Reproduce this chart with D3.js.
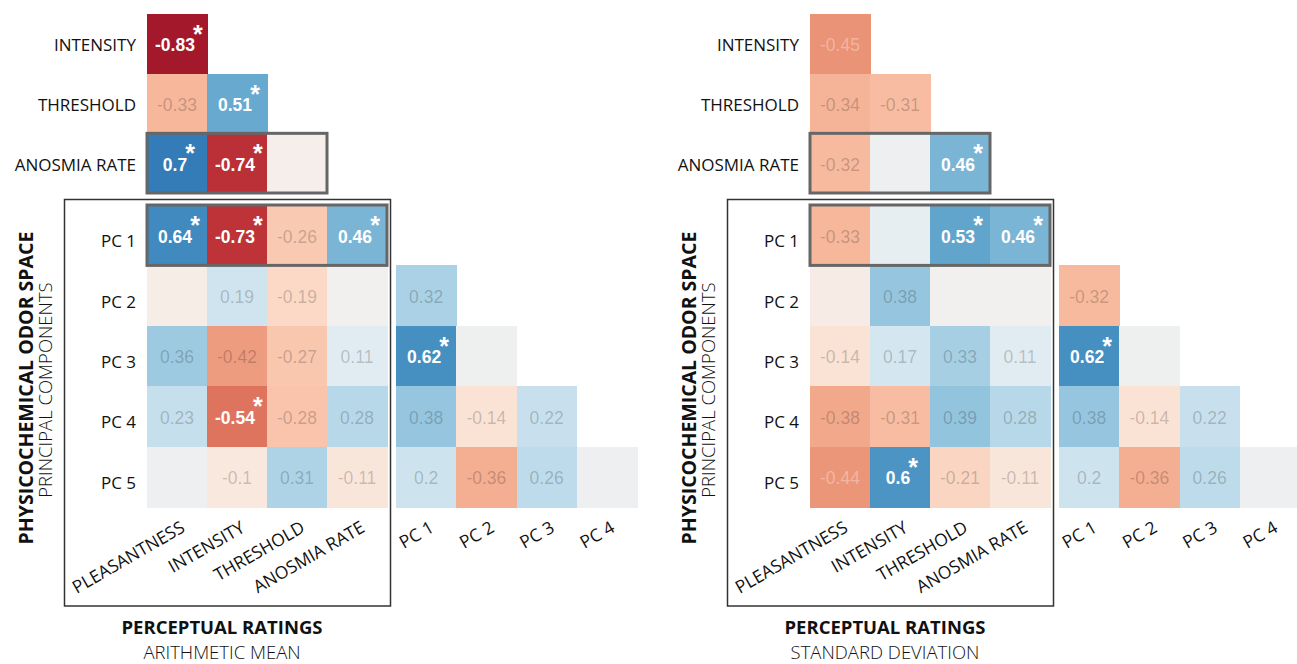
<!DOCTYPE html>
<html>
<head>
<meta charset="utf-8">
<script src="https://cdn.jsdelivr.net/npm/d3@7"></script>
<style>
  body { margin: 0; background: #fff; }
  .lbl { font-family: "Open Sans", sans-serif; fill: #111; }
  .val { font-family: "Liberation Sans", Arial, sans-serif; }
</style>
</head>
<body>
<svg id="chart" width="1297" height="664"></svg>
<script>
// Category labels
const perceptualRatings = ["PLEASANTNESS", "INTENSITY", "THRESHOLD", "ANOSMIA RATE"];
const perceptualRows = ["INTENSITY", "THRESHOLD", "ANOSMIA RATE"];
const components = ["PC 1", "PC 2", "PC 3", "PC 4", "PC 5"];
const componentCols = ["PC 1", "PC 2", "PC 3", "PC 4"];

// Arithmetic mean: perceptual ratings vs. each other (lower triangle)
const meanPerc = [[-0.83], [-0.33, 0.51], [0.70, -0.74, -0.03]];
const meanPercSig = [[1], [0, 1], [1, 1, 0]];
// Arithmetic mean: principal components vs. perceptual ratings
const meanPcPerc = [
  [0.64, -0.73, -0.26, 0.46],
  [-0.05, 0.19, -0.19, 0.01],
  [0.36, -0.42, -0.27, 0.11],
  [0.23, -0.54, -0.28, 0.28],
  [0.04, -0.10, 0.31, -0.11]
];
const meanPcPercSig = [
  [1, 1, 0, 1],
  [0, 0, 0, 0],
  [0, 0, 0, 0],
  [0, 1, 0, 0],
  [0, 0, 0, 0]
];
// Arithmetic mean: principal components vs. each other (rows PC 2..PC 5)
const meanPcPc = [[0.32], [0.62, 0.03], [0.38, -0.14, 0.22], [0.20, -0.36, 0.26, 0.04]];
const meanPcPcSig = [[0], [1, 0], [0, 0, 0], [0, 0, 0, 0]];

// Standard deviation: perceptual ratings vs. each other
const sdPerc = [[-0.45], [-0.34, -0.31], [-0.32, 0.04, 0.46]];
const sdPercSig = [[0], [0, 0], [0, 0, 1]];
// Standard deviation: principal components vs. perceptual ratings
const sdPcPerc = [
  [-0.33, 0.08, 0.53, 0.46],
  [-0.06, 0.38, 0.01, 0.01],
  [-0.14, 0.17, 0.33, 0.11],
  [-0.38, -0.31, 0.39, 0.28],
  [-0.44, 0.60, -0.21, -0.11]
];
const sdPcPercSig = [
  [0, 0, 1, 1],
  [0, 0, 0, 0],
  [0, 0, 0, 0],
  [0, 0, 0, 0],
  [0, 1, 0, 0]
];
const sdPcPc = [[-0.32], [0.62, 0.03], [0.38, -0.14, 0.22], [0.20, -0.36, 0.26, 0.04]];
const sdPcPcSig = [[0], [1, 0], [0, 0, 0], [0, 0, 0, 0]];

const panels = [
  { offset: 0, title: "PERCEPTUAL RATINGS", subtitle: "ARITHMETIC MEAN",
    perc: meanPerc, percSig: meanPercSig, pcPerc: meanPcPerc, pcPercSig: meanPcPercSig,
    pcPc: meanPcPc, pcPcSig: meanPcPcSig },
  { offset: 663, title: "PERCEPTUAL RATINGS", subtitle: "STANDARD DEVIATION",
    perc: sdPerc, percSig: sdPercSig, pcPerc: sdPcPerc, pcPercSig: sdPcPercSig,
    pcPc: sdPcPc, pcPcSig: sdPcPcSig }
];

const svg = d3.select("#chart");
const color = d3.scaleDiverging(d3.interpolateRdBu).domain([-1, 0, 1]);
const fmt = v => String(+v.toFixed(2));
const SHOW_MIN = 0.1;      // smaller correlations are left unlabeled
const LIGHT_TEXT_MIN = 0.44;

const xPerc = d3.scaleBand().domain(perceptualRatings).range([147, 387]);
const yPercRow = d3.scaleBand().domain(perceptualRows).range([14, 193]);
const yPc = d3.scaleBand().domain(components).range([205, 507]);
const xPc = d3.scaleBand().domain(componentCols).range([396, 637]);

function cells(g, data, sig, rows, cols, xs, ys) {
  const flat = [];
  data.forEach((row, i) => row.forEach((v, j) => flat.push({ v, s: sig[i][j], r: rows[i], c: cols[j] })));
  g.selectAll(null).data(flat).join("rect")
    .attr("x", d => xs(d.c)).attr("y", d => ys(d.r))
    .attr("width", xs.bandwidth() + 0.5).attr("height", ys.bandwidth() + 0.5)
    .attr("fill", d => color(d.v))
    .attr("shape-rendering", "crispEdges");

  const shown = flat.filter(d => Math.abs(d.v) >= SHOW_MIN);
  shown.forEach(d => {
    const cx = xs(d.c) + xs.bandwidth() / 2;
    const cy = ys(d.r) + ys.bandwidth() / 2;
    const t = g.append("text").attr("class", "val")
      .attr("x", cx - (d.s ? 2 : 0)).attr("y", cy).attr("dy", "0.42em")
      .attr("text-anchor", "middle")
      .style("font-size", "17.5px")
      .text(fmt(d.v));
    if (d.s) {
      t.style("font-weight", "bold").attr("fill", "#fff");
      const w = t.node().getComputedTextLength();
      g.append("text").attr("class", "val")
        .attr("x", cx - 2 + w / 2 + 3).attr("y", cy - 1)
        .attr("text-anchor", "middle")
        .style("font-size", "25px").style("font-weight", "bold")
        .attr("fill", "#fff")
        .text("*");
    } else if (Math.abs(d.v) >= LIGHT_TEXT_MIN) {
      t.attr("fill", "rgba(255,255,255,0.32)");
    } else {
      t.attr("fill", "rgba(0,0,0,0.21)");
    }
  });
}

function styleAxis(size) {
  return g => {
    g.select(".domain").remove();
    g.selectAll("text").attr("class", "lbl").attr("fill", "#111")
      .style("font-size", size).style("font-family", "'Open Sans', sans-serif");
  };
}

panels.forEach(p => {
  const g = svg.append("g").attr("transform", `translate(${p.offset},0)`);

  // outer frame around the odor-space block
  g.append("rect")
    .attr("x", 64.5).attr("y", 199.5).attr("width", 326).attr("height", 406.5)
    .attr("fill", "none").attr("stroke", "#333").attr("stroke-width", 1.5);

  cells(g, p.perc, p.percSig, perceptualRows, perceptualRatings, xPerc, yPercRow);
  cells(g, p.pcPerc, p.pcPercSig, components, perceptualRatings, xPerc, yPc);
  cells(g, p.pcPc, p.pcPcSig, components.slice(1), componentCols, xPc, yPc);

  // highlighted rows
  g.append("rect")
    .attr("x", xPerc("PLEASANTNESS")).attr("y", yPercRow("ANOSMIA RATE"))
    .attr("width", xPerc.bandwidth() * 3).attr("height", yPercRow.bandwidth())
    .attr("fill", "none").attr("stroke", "#666").attr("stroke-width", 3);
  g.append("rect")
    .attr("x", xPerc("PLEASANTNESS")).attr("y", yPc("PC 1"))
    .attr("width", xPerc.bandwidth() * 4).attr("height", yPc.bandwidth())
    .attr("fill", "none").attr("stroke", "#666").attr("stroke-width", 3);

  // row labels
  g.append("g").attr("transform", "translate(147,0)")
    .call(d3.axisLeft(yPercRow).tickSize(0).tickPadding(11))
    .call(styleAxis("17px"))
    .selectAll("text").attr("dy", "0.45em");
  g.append("g").attr("transform", "translate(147,0)")
    .call(d3.axisLeft(yPc).tickSize(0).tickPadding(11))
    .call(styleAxis("17px"))
    .selectAll("text").attr("dy", "0.7em");

  // rotated column labels
  [xPerc, xPc].forEach(xs => {
    g.append("g").attr("transform", "translate(0,507)")
      .call(d3.axisBottom(xs).tickSize(0))
      .call(styleAxis("17.5px"))
      .selectAll("text")
      .attr("x", 0).attr("y", 0).attr("dy", 0)
      .attr("text-anchor", "end")
      .attr("transform", "translate(9,24) rotate(-30)");
  });

  // axis titles
  g.append("text").attr("class", "lbl")
    .attr("transform", "translate(33,388) rotate(-90)")
    .attr("text-anchor", "middle")
    .style("font-size", "19.5px").style("font-weight", 700)
    .text("PHYSICOCHEMICAL ODOR SPACE");
  g.append("text").attr("class", "lbl")
    .attr("transform", "translate(52,390) rotate(-90)")
    .attr("text-anchor", "middle")
    .style("font-size", "18.5px").style("font-weight", 300)
    .text("PRINCIPAL COMPONENTS");
  g.append("text").attr("class", "lbl")
    .attr("x", 222).attr("y", 634)
    .attr("text-anchor", "middle")
    .style("font-size", "18.5px").style("font-weight", 700)
    .text(p.title);
  g.append("text").attr("class", "lbl")
    .attr("x", 222).attr("y", 659)
    .attr("text-anchor", "middle")
    .style("font-size", "18.5px").style("font-weight", 300)
    .text(p.subtitle);
});
</script>
</body>
</html>
